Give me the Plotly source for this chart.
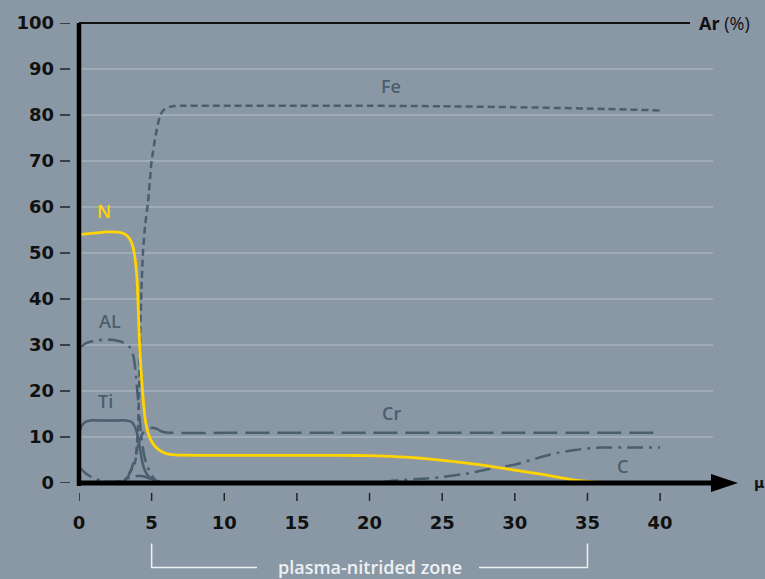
import plotly.graph_objects as go

# ---------------- data ----------------
n_x = [0, 1, 2, 2.8, 3.2, 3.5, 3.7, 3.85, 4.0, 4.1, 4.2, 4.35, 4.55, 4.8, 5.1, 5.5, 6.0, 6.6, 10, 15, 18, 20, 21, 22, 23, 24, 26, 28, 30, 32, 33, 34, 35, 36]
n_y = [54, 54.3, 54.6, 54.5, 54, 53, 51.5, 49, 44, 36, 28, 21, 14, 10.5, 8.5, 7.2, 6.4, 6.1, 6, 6, 6, 5.95, 5.85, 5.7, 5.5, 5.25, 4.6, 3.8, 2.8, 1.8, 1.2, 0.7, 0.35, 0.1]

fe_x = [3.0, 3.3, 3.6, 3.85, 4.05, 4.15, 4.2, 4.3, 4.4, 4.55, 4.75, 5.0, 5.3, 5.6, 5.9, 6.3, 7, 10, 15, 20, 25, 30, 35, 40]
fe_y = [0, 1.3, 2.8, 4.3, 11.5, 22, 31, 42, 50, 56, 61, 70, 76, 80, 81.3, 81.8, 82, 82, 82, 82, 81.9, 81.7, 81.4, 81]

cr_x = [3.0, 3.3, 3.6, 3.9, 4.1, 4.3, 4.5, 4.8, 5.1, 5.4, 5.7, 6.0, 6.5, 10, 20, 30, 40]
cr_y = [0, 1, 3, 6, 8.5, 10.3, 11.3, 11.9, 12, 11.7, 11.2, 11, 10.9, 10.9, 10.9, 10.9, 10.9]

al_x = [0, 0.5, 1, 2, 2.8, 3.2, 3.5, 3.75, 3.9, 4.05, 4.2, 4.4, 4.6, 4.9, 5.2, 5.6]
al_y = [29.3, 30.4, 30.9, 31.2, 30.8, 30.3, 29.5, 27.5, 24, 18.5, 13, 7.5, 4.5, 2.2, 0.8, 0]

ti_x = [0, 0.15, 0.4, 0.8, 1.5, 2.5, 3.2, 3.6, 3.8, 4.0, 4.15, 4.3, 4.5, 4.7, 5.0, 5.4, 6.0]
ti_y = [10.5, 12.2, 13.2, 13.6, 13.6, 13.6, 13.6, 13.3, 12.5, 10.8, 8.5, 5.5, 3, 1.8, 0.9, 0.3, 0]

c_x = [0, 0.5, 1.0, 1.5, 2.3, 3.0, 3.5, 4.0, 4.3, 4.7, 5.2, 5.8, 7, 15, 20, 22, 24, 25, 27, 28, 30, 31, 32, 33, 34, 35, 36, 38, 40]
c_y = [3.5, 2.0, 1.0, 0.5, 0.2, 0.5, 1.2, 1.5, 1.5, 1.2, 0.5, 0.1, 0, 0, 0, 0.6, 1.0, 1.3, 2.2, 2.9, 4.0, 4.9, 5.8, 6.6, 7.1, 7.5, 7.7, 7.7, 7.7]

x_ticks = [0, 5, 10, 15, 20, 25, 30, 35, 40]
y_ticks = [0, 10, 20, 30, 40, 50, 60, 70, 80, 90, 100]
grid_vals = [10, 20, 30, 40, 50, 60, 70, 80, 90]
zone = [5, 35]

labels = [
    ("Fe", 21.5, 86.4), ("Cr", 21.5, 15.3), ("C", 37.4, 3.7),
    ("AL", 2.1, 35.2), ("Ti", 1.8, 17.9), ("N", 1.7, 59.2),
]

# ---------------- style ----------------
BG = "#8a98a5"
CURVE = "#4a5e6e"
YELLOW = "#ffd400"
GRID = "#b3bfc9"
LIGHT = "#eef1f4"
FONT = "DejaVu Sans"
LFONT = "Open Sans"

fig = go.Figure()

def add(x, y, color, dash, width=2.5):
    fig.add_trace(go.Scatter(x=x, y=y, mode="lines",
                             line=dict(color=color, width=width, dash=dash, shape="spline", smoothing=0.6),
                             hoverinfo="skip", showlegend=False))

add(c_x, c_y, CURVE, "16px,6px,3px,6px")
add(ti_x, ti_y, CURVE, "solid")
add(al_x, al_y, CURVE, "16px,6px,3px,6px")
add(cr_x, cr_y, CURVE, "24px,8px")
add(fe_x, fe_y, CURVE, "7px,4px")
add(n_x, n_y, YELLOW, "solid", 2.8)

# plot area geometry (pixels)
L, R, T, B = 79, 25, 20, 96
W, H = 765 - L - R, 579 - T - B

def px_x(p):
    return (p - L) / W

def px_y(p):
    return (579 - B - p) / H

shapes = []
for g in grid_vals:
    shapes.append(dict(type="line", xref="paper", yref="y", x0=0, x1=px_x(713), y0=g, y1=g,
                       line=dict(color=GRID, width=1.2), layer="below"))
shapes.append(dict(type="line", xref="paper", yref="paper", x0=0, x1=px_x(690), y0=1, y1=1,
                   line=dict(color="#111", width=2)))
shapes.append(dict(type="line", xref="paper", yref="paper", x0=0, x1=0, y0=px_y(486), y1=1,
                   line=dict(color="#000", width=4.5)))
shapes.append(dict(type="line", xref="paper", yref="paper", x0=px_x(77), x1=px_x(716), y0=0, y1=0,
                   line=dict(color="#000", width=5)))
shapes.append(dict(type="path", xref="paper", yref="paper",
                   path=f"M {px_x(711)},{px_y(474)} L {px_x(738)},{px_y(483)} L {px_x(711)},{px_y(492)} Z",
                   fillcolor="#000", line=dict(color="#000", width=0)))
for t in y_ticks:
    shapes.append(dict(type="line", xref="paper", yref="y", x0=px_x(60), x1=px_x(70), y0=t, y1=t,
                       line=dict(color="#222", width=1.5)))
for t in x_ticks:
    shapes.append(dict(type="line", xref="x", yref="paper", x0=t, x1=t, y0=px_y(493), y1=px_y(501),
                       line=dict(color="#222", width=1.5)))
x_gap_l = (257 - L) / W * 45.5
x_gap_r = (479 - L) / W * 45.5
shapes.append(dict(type="path", xref="x", yref="paper",
                   path=f"M {zone[0]},{px_y(544)} L {zone[0]},{px_y(568)} L {x_gap_l},{px_y(568)}",
                   line=dict(color=LIGHT, width=1.5)))
shapes.append(dict(type="path", xref="x", yref="paper",
                   path=f"M {x_gap_r},{px_y(568)} L {zone[1]},{px_y(568)} L {zone[1]},{px_y(544)}",
                   line=dict(color=LIGHT, width=1.5)))

annotations = []
for txt, lx, ly in labels:
    annotations.append(dict(x=lx, y=ly, xref="x", yref="y", text=txt, showarrow=False,
                            font=dict(family=LFONT, size=18, color=YELLOW if txt == "N" else CURVE,
                                      weight=600)))
annotations.append(dict(x=px_x(697), y=1, xref="paper", yref="paper", xanchor="left", yanchor="middle",
                        text="<b>Ar</b> (%)", showarrow=False,
                        font=dict(family=LFONT, size=18, color="#111")))
annotations.append(dict(x=px_x(752), y=0, xref="paper", yref="paper", xanchor="left", yanchor="middle",
                        text="<b>μ</b>", showarrow=False,
                        font=dict(family=FONT, size=14, color="#111")))
annotations.append(dict(x=sum(zone) / 2, y=px_y(568), xref="x", yref="paper", xanchor="center", yanchor="middle",
                        text="plasma-nitrided zone", showarrow=False,
                        font=dict(family=LFONT, size=18, color=LIGHT, weight=600)))

fig.update_layout(
    width=765, height=579,
    margin=dict(l=L, r=R, t=T, b=B),
    paper_bgcolor=BG, plot_bgcolor=BG,
    shapes=shapes, annotations=annotations,
    xaxis=dict(range=[0, 45.5], showgrid=False, zeroline=False, showline=False,
               tickmode="array", tickvals=x_ticks, ticktext=[str(v) for v in x_ticks],
               ticks="", ticklabelstandoff=27,
               tickfont=dict(family=FONT, size=18, color="#111", weight="bold")),
    yaxis=dict(range=[0, 100], showgrid=False, zeroline=False, showline=False,
               tickmode="array", tickvals=y_ticks, ticktext=[str(v) for v in y_ticks],
               ticks="", ticklabelstandoff=24,
               tickfont=dict(family=FONT, size=18, color="#111", weight="bold")),
)

fig.write_html("out.html")
